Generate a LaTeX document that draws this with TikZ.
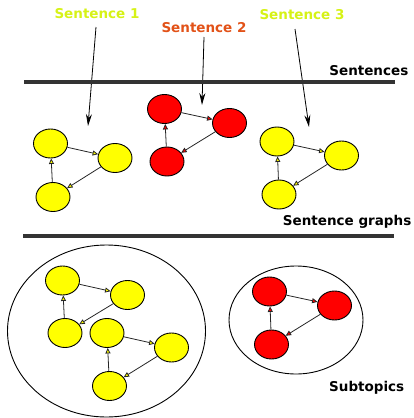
\documentclass[tikz,border=0pt]{standalone}
\usepackage{fontspec}
\setmainfont{DejaVu Sans}
\usetikzlibrary{arrows.meta,shapes.geometric}
\definecolor{limetext}{RGB}{214,242,22}
\definecolor{orangetext}{RGB}{226,82,24}
\definecolor{nodeyellow}{RGB}{255,255,0}
\definecolor{nodered}{RGB}{255,0,0}
\tikzset{
  yel/.style={ellipse,draw=black,line width=0.9pt,fill=nodeyellow,minimum width=34pt,minimum height=29pt,inner sep=0pt},
  rednode/.style={ellipse,draw=black,line width=0.9pt,fill=nodered,minimum width=34pt,minimum height=29pt,inner sep=0pt},
  yedge/.style={draw=black!85,line width=0.8pt,-{Triangle[length=5.5pt,width=5pt,fill=nodeyellow]}},
  redge/.style={draw=black!85,line width=0.8pt,-{Triangle[length=5.5pt,width=5pt,fill=nodered]}},
  pointer/.style={draw=black,line width=0.8pt,-{Stealth[length=12pt,width=6pt,inset=4pt]}},
  rule/.style={line width=3.3pt,draw=black!80},
  heading/.style={font=\fontsize{13.5}{16}\selectfont\bfseries,inner sep=0pt},
  group/.style={ellipse,draw=black,line width=0.9pt,inner sep=0pt}
}
\begin{document}
\begin{tikzpicture}[x=1pt,y=-1pt]
\useasboundingbox (0,0) rectangle (414,418);

% sentence labels and their pointers
\node[heading,text=limetext] (s1) at (97,14) {Sentence 1};
\node[heading,text=orangetext] (s2) at (204,28) {Sentence 2};
\node[heading,text=limetext] (s3) at (302,15) {Sentence 3};
\coordinate (p1s) at (96,27);  \coordinate (p1e) at (88,126);
\coordinate (p2s) at (204,37); \coordinate (p2e) at (202,105);
\coordinate (p3s) at (295,29); \coordinate (p3e) at (309,127);
\draw[pointer] (p1s) -- (p1e);
\draw[pointer] (p2s) -- (p2e);
\draw[pointer] (p3s) -- (p3e);

% separating rules and section titles
\coordinate (r1a) at (24,82);  \coordinate (r1b) at (395,82);
\coordinate (r2a) at (23,236); \coordinate (r2b) at (394,236);
\draw[rule] (r1a) -- (r1b);
\draw[rule] (r2a) -- (r2b);
\node[heading,anchor=east] (t1) at (408.5,71) {Sentences};
\node[heading,anchor=east] (t2) at (411.5,222) {Sentence graphs};
\node[heading,anchor=west] (t3) at (329,388) {Subtopics};

% sentence graphs
\node[yel] (a) at (50.5,143.5) {};
\node[yel] (b) at (115,158) {};
\node[yel] (c) at (53,197) {};
\draw[yedge] (a) -- (b);
\draw[yedge] (b) -- (c);
\draw[yedge] (c) -- (a);

\node[rednode] (d) at (164.5,109) {};
\node[rednode] (e) at (229.5,123) {};
\node[rednode] (f) at (167,161.5) {};
\draw[redge] (d) -- (e);
\draw[redge] (e) -- (f);
\draw[redge] (f) -- (d);

\node[yel] (g) at (277,141.5) {};
\node[yel] (h) at (341.5,155.5) {};
\node[yel] (i) at (279,194.5) {};
\draw[yedge] (g) -- (h);
\draw[yedge] (h) -- (i);
\draw[yedge] (i) -- (g);

% subtopics
\node[group,minimum width=198pt,minimum height=172pt] (big) at (106.5,331) {};
\node[group,minimum width=134pt,minimum height=108pt] (small) at (296,320) {};

\node[yel] (j) at (62.5,280.5) {};
\node[yel] (k) at (127.5,295) {};
\node[yel] (l) at (65,333) {};
\draw[yedge] (j) -- (k);
\draw[yedge] (k) -- (l);
\draw[yedge] (l) -- (j);

\node[yel] (m) at (107,333) {};
\node[yel] (n) at (171.5,347.5) {};
\node[yel] (o) at (109.5,386) {};
\draw[yedge] (m) -- (n);
\draw[yedge] (n) -- (o);
\draw[yedge] (o) -- (m);

\node[rednode] (p) at (269.5,291.5) {};
\node[rednode] (q) at (334.5,305.5) {};
\node[rednode] (r) at (271.5,344.5) {};
\draw[redge] (p) -- (q);
\draw[redge] (q) -- (r);
\draw[redge] (r) -- (p);
\end{tikzpicture}
\end{document}
